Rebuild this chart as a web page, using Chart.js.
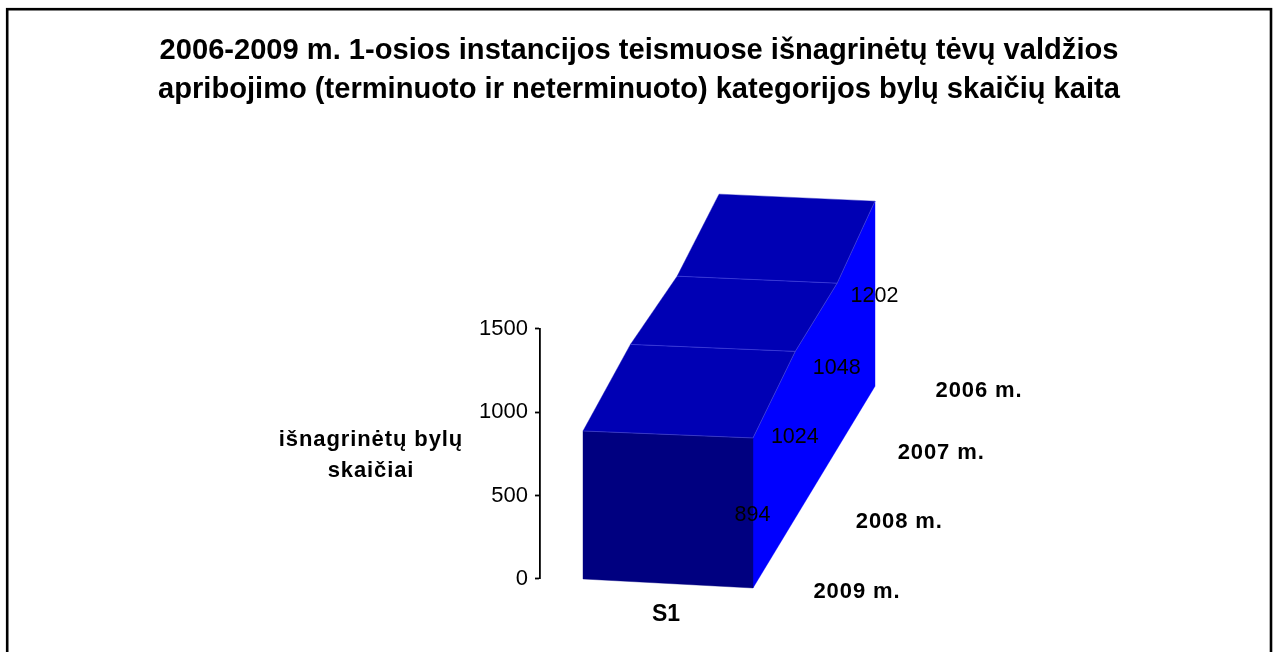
<!DOCTYPE html>
<html>
<head>
<meta charset="utf-8">
<style>html,body{margin:0;padding:0;background:#fff;overflow:hidden}canvas{display:block}</style>
<script src="https://cdn.jsdelivr.net/npm/chart.js@4"></script>
</head>
<body>
<canvas id="c" width="1278" height="652"></canvas>
<script>
// --- data (back of the chart to front) ---
const seriesName = 'S1';
const years = ['2006 m.', '2007 m.', '2008 m.', '2009 m.'];
const values = [1202, 1048, 1024, 894];
const yTicks = [0, 500, 1000, 1500];
const titleLines = [
  '2006-2009 m. 1-osios instancijos teismuose išnagrinėtų tėvų valdžios',
  'apribojimo (terminuoto ir neterminuoto) kategorijos bylų skaičių kaita'
];
const yAxisTitle = ['išnagrinėtų bylų', 'skaičiai'];

// --- 3D projection into the chart's data space ---
const view = {
  unitsPerPx: 6, frontRight: 213, frontWidth: 170, perspective: 0.03,
  stepX: 40.67, stepUp: 67.33, groundDrop: 9.3, heightScale: 0.168,
  skewTop: 7, skewBottom: 9, sliceDepth: [3, 2.07, 1.04, 0]
};
function project(u, depth, value) {
  const p = 1 / (1 + view.perspective * depth);
  const xRight = view.frontRight + view.stepX * depth;
  const skew = (1 - u) * (value > 0 ? view.skewTop : view.skewBottom);
  const up = -view.groundDrop + view.stepUp * depth + value * view.heightScale * p + skew;
  return { x: xRight - (1 - u) * view.frontWidth * p, y: up * view.unitsPerPx };
}
const n = values.length;
const corner = (u, i, h) => project(u, view.sliceDepth[i], h === undefined ? values[i] : h);

const COLORS = { front: '#000080', top: '#0000B4', side: '#0000FF', edge: '#5A5AF0' };
const polygon = (label, data, color) => ({
  label, data, polygon: true, polyColor: color, showLine: false,
  pointRadius: 0, clip: false
});
const edge = (label, data) => ({
  label, data, showLine: true, borderColor: COLORS.edge, borderWidth: 0.5,
  pointRadius: 0, clip: false
});

const datasets = [];
// right side wall
datasets.push(polygon('side', [
  ...values.map((v, i) => corner(1, i)).reverse(),
  corner(1, 0, 0), corner(1, n - 1, 0)
], COLORS.side));
// roof, one piece per year step
for (let i = 0; i < n - 1; i++) {
  datasets.push(polygon('top ' + years[i], [
    corner(0, i), corner(1, i), corner(1, i + 1), corner(0, i + 1)
  ], COLORS.top));
}
// front wall
datasets.push(polygon('front', [
  corner(0, n - 1), corner(1, n - 1), corner(1, n - 1, 0), corner(0, n - 1, 0)
], COLORS.front));
// thin seams
for (let i = 1; i < n; i++) datasets.push(edge('seam ' + years[i], [corner(0, i), corner(1, i)]));
datasets.push(edge('ridge', values.map((v, i) => corner(1, i))));
// label anchors
const valueAnchorIdx = datasets.length;
datasets.push({
  label: seriesName, data: values.map((v, i) => corner(1, i, v / 2)),
  showLine: false, pointRadius: 0, clip: false
});
const yearAnchorIdx = datasets.length;
datasets.push({
  label: 'years',
  data: values.map((v, i) => {
    const g = corner(1, i, 0);
    return { x: g.x + 104, y: g.y - 4.3 * view.unitsPerPx };
  }),
  showLine: false, pointRadius: 0, clip: false
});

const FONT = '"Liberation Sans", Arial, sans-serif';

const chart3d = {
  id: 'chart3d',
  beforeDraw(chart) {
    const c = chart.ctx;
    c.save();
    c.fillStyle = '#fff';
    c.fillRect(0, 0, chart.width, chart.height);
    c.strokeStyle = '#000';
    c.lineWidth = 2.6;
    c.strokeRect(7.2, 9.2, 1263.8, 700);
    c.restore();
  },
  beforeDatasetsDraw(chart) {
    const c = chart.ctx;
    c.save();
    chart.data.datasets.forEach((ds, i) => {
      if (!ds.polygon) return;
      const pts = chart.getDatasetMeta(i).data;
      c.beginPath();
      pts.forEach((p, k) => k ? c.lineTo(p.x, p.y) : c.moveTo(p.x, p.y));
      c.closePath();
      c.fillStyle = ds.polyColor;
      c.strokeStyle = ds.polyColor;
      c.lineWidth = 0.4;
      c.fill();
      c.stroke();
    });
    c.restore();
  },
  afterDatasetsDraw(chart) {
    const c = chart.ctx;
    c.save();
    c.fillStyle = '#000';
    c.textAlign = 'center';
    c.textBaseline = 'middle';
    c.font = '21.5px ' + FONT;
    chart.getDatasetMeta(valueAnchorIdx).data.forEach((p, i) => c.fillText(String(values[i]), p.x - 0.5, p.y + 2));
    c.font = 'bold 22px ' + FONT;
    c.letterSpacing = '0.9px';
    chart.getDatasetMeta(yearAnchorIdx).data.forEach((p, i) => c.fillText(years[i], p.x, p.y));
    const ys = chart.scales.y;
    const midY = ys.getPixelForValue(750) + 1.5;
    yAxisTitle.forEach((t, i) => c.fillText(t, 371, midY - 15.5 + i * 31));
    c.restore();
  }
};

new Chart(document.getElementById('c'), {
  type: 'scatter',
  data: { datasets },
  plugins: [chart3d],
  options: {
    responsive: false,
    animation: false,
    layout: { padding: 0 },
    plugins: {
      legend: { display: false },
      tooltip: { enabled: false },
      title: {
        display: true,
        text: titleLines,
        color: '#000',
        font: { family: FONT, size: 29.1, weight: 'bold', lineHeight: 1.336 },
        padding: { top: 32, bottom: 219.2 }
      }
    },
    scales: {
      x: {
        type: 'linear', min: 0, max: 738,
        afterFit(s) { s.height = 73.3; },
        afterBuildTicks(s) { s.ticks = [{ value: project(0.5, 0, 0).x - 2 }]; },
        grid: { display: true, drawOnChartArea: false, drawTicks: true, tickLength: 0 },
        border: { display: false },
        ticks: {
          display: true, autoSkip: false, maxRotation: 0, padding: 22,
          color: '#000', font: { family: FONT, size: 23, weight: 'bold' },
          callback: () => seriesName
        }
      },
      y: {
        type: 'linear', min: yTicks[0], max: yTicks[yTicks.length - 1],
        afterFit(s) { s.width = 540; },
        afterBuildTicks(s) { s.ticks = yTicks.map(v => ({ value: v })); },
        grid: { drawOnChartArea: false, drawTicks: true, tickLength: 5, tickColor: '#000', tickWidth: 1.8 },
        border: { display: true, color: '#000', width: 1.8 },
        ticks: { color: '#000', padding: 7, font: { family: FONT, size: 22 }, callback: v => String(v) }
      }
    }
  }
});
</script>
</body>
</html>
